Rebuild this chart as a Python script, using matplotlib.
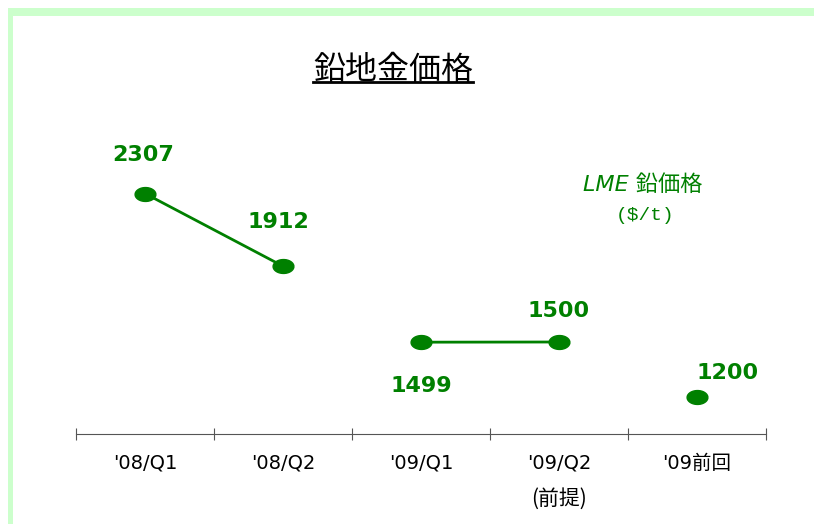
import numpy as np
import matplotlib.pyplot as plt
from matplotlib.patches import Rectangle
from matplotlib.lines import Line2D
from matplotlib.path import Path

# data
categories = ["'08/Q1", "'08/Q2", "'09/Q1", "'09/Q2", "'09前回"]
prices = [2307, 1912, 1499, 1500, 1200]
segments = [(0, 1), (2, 3)]  # connected pairs
label_offsets = [(-1.5, 28), (-3.5, 32), (0, -31.5), (0, 22), (22, 17.5)]  # points

green = '#008000'
jp = ['DejaVu Sans', 'Noto Sans CJK JP']
plt.rcParams['font.family'] = jp

W, H = 814, 524
fig = plt.figure(figsize=(W / 100, H / 100), dpi=100)

# light green frame (top and left bands)
fig.patches.append(Rectangle((8 / W, 1 - 16 / H), 1, 8 / H, transform=fig.transFigure,
                             color='#ccffcc', lw=0, zorder=0))
fig.patches.append(Rectangle((8 / W, 0), 5 / W, 1 - 8 / H, transform=fig.transFigure,
                             color='#ccffcc', lw=0, zorder=0))

# axes: x from 76 to 766 px, bottom at y=434 px
y0, y1 = 1000, 2600
ppu = 0.184
ax_h = (y1 - y0) * ppu
ax = fig.add_axes([76 / W, (H - 434) / H, (766 - 76) / W, ax_h / H])
ax.set_xlim(-0.5, len(categories) - 0.5)
ax.set_ylim(y0, y1)

# wide elliptical marker
t = np.linspace(0, 2 * np.pi, 40)
ellipse = Path(np.column_stack([1.5 * np.cos(t), np.sin(t)]))

for a, b in segments:
    ax.plot([a, b], [prices[a], prices[b]], color=green, lw=2, zorder=2)
ax.plot(range(len(prices)), prices, marker=ellipse, color=green, ms=15, zorder=3, ls='none')

for i, (v, off) in enumerate(zip(prices, label_offsets)):
    ax.annotate(str(v), (i, v), xytext=off, textcoords='offset points',
                ha='center', va='center', color=green, fontsize=16,
                fontweight='bold', family=['DejaVu Sans'])

for s in ['top', 'right', 'left']:
    ax.spines[s].set_visible(False)
ax.spines['bottom'].set_color('#555555')
ax.set_yticks([])
ax.set_xticks([i - 0.5 for i in range(len(categories) + 1)])
ax.set_xticklabels([])
ax.tick_params(axis='x', direction='inout', length=8, color='#555555')
for i, c in enumerate(categories):
    ax.annotate(c, (i, 0), xycoords=('data', 'axes fraction'), xytext=(0, -21),
                textcoords='offset points', ha='center', va='center', fontsize=14, family=jp)
ax.annotate('(前提)', (3, 0), xycoords=('data', 'axes fraction'), xytext=(0, -47),
            textcoords='offset points', ha='center', va='center', fontsize=15,
            family=['Noto Sans CJK JP'])

# title with underline
fig.text(393 / W, 1 - 70 / H, '鉛地金価格', ha='center', va='center', fontsize=23,
         family=['Noto Sans CJK JP'])
fig.lines.append(Line2D([313 / W, 473 / W], [1 - 82 / H] * 2, transform=fig.transFigure,
                        color='black', lw=2))

fig.text(643 / W, 1 - 185 / H, 'LME 鉛価格', ha='center', va='center', fontsize=16,
         color=green, style='italic', family=['DejaVu Sans', 'Noto Sans CJK JP'])
fig.text(645 / W, 1 - 216 / H, '($/t)', ha='center', va='center', fontsize=14,
         color=green, family=['Liberation Mono'])

fig.savefig('out.png', dpi=100)
